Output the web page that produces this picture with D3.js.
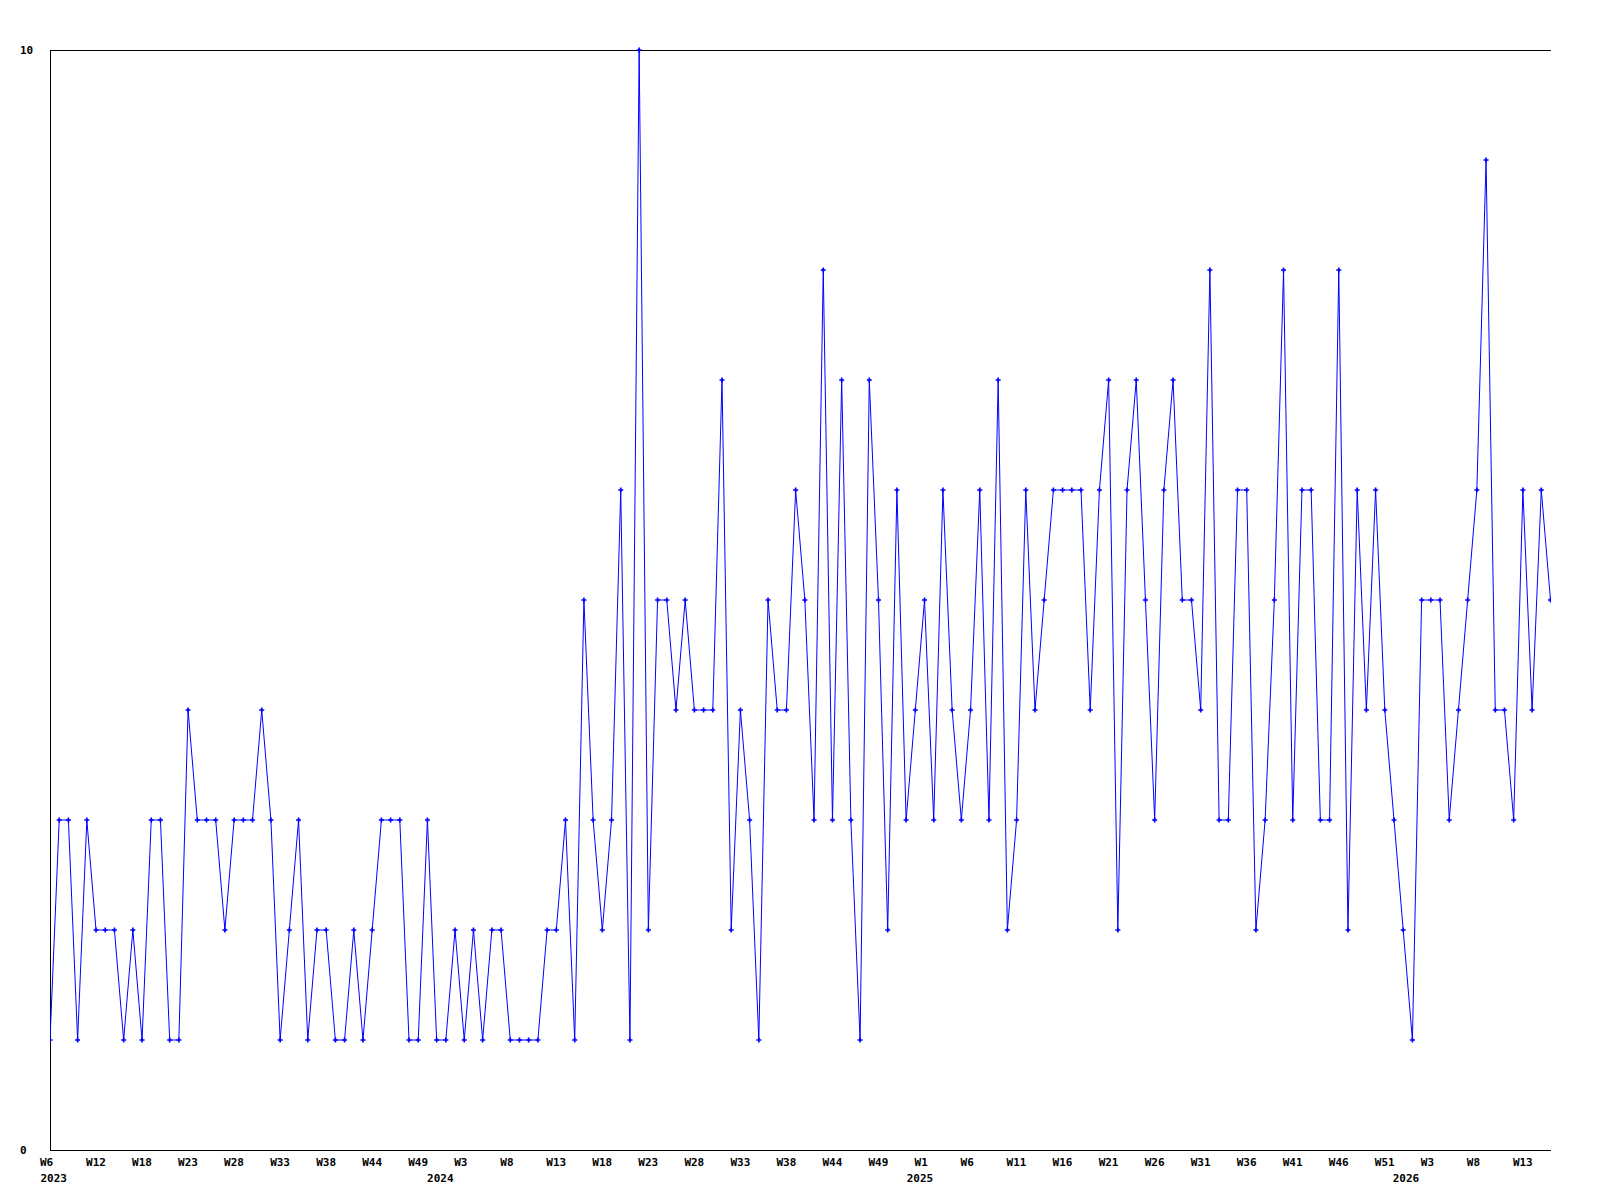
<!DOCTYPE html>
<html>
<head>
<meta charset="utf-8">
<script src="https://cdn.jsdelivr.net/npm/d3@7"></script>
<style>
  html, body { margin: 0; padding: 0; background: #ffffff; }
  svg { display: block; }
  text { font-family: "DejaVu Sans Mono", "Liberation Mono", monospace; font-weight: bold; font-size: 11px; fill: #000; }
</style>
</head>
<body>
<script>
// Weekly values (one point per week)
const values = [
  1,3,3,1,3,2,2,2,1,2, 1,3,3,1,1,4,3,3,3,2, 3,3,3,4,3,1,2,3,1,2,
  2,1,1,2,1,2,3,3,3,1, 1,3,1,1,2,1,2,1,2,2, 1,1,1,1,2,2,3,1,5,3,
  2,3,6,1,
  10,2,5,5,4,5,4,4,4,7, 2,4,3,1,5,4,4,6,5,3, 8,3,7,3,1,7,5,2,6,3,
  4,5,3,
  6,4,3,4,6,3,7,2,3,6, 4,5,6,6,6,6,4,6,7,2, 6,7,5,3,6,7,5,5,4,8,
  3,3,6,6,2,
  3,5,8,3,6,6,3,3,8,2, 6,4,6,4,3,2,1,5,5,5, 3,4,5,6,9,4,4,3,6,4,
  6,5
];

// Week tick labels, one every 5 points
const weekTicks = ["W6","W12","W18","W23","W28","W33","W38","W44","W49","W3","W8","W13",
  "W18","W23","W28","W33","W38","W44","W49","W1","W6","W11","W16","W21","W26","W31",
  "W36","W41","W46","W51","W3","W8","W13"];
const tickStep = 5;

// Year labels and the (fractional) point index they sit under
const years = ["2023","2024","2025","2026"];
const yearAt = [0.4, 42.4, 94.5, 147.3];

// Y axis labels
const yTicks = [0, 10];

(function () {
  const W = 1600, H = 1200;
  const mLeft = 50, mRight = 1550.5, mTop = 50, mBottom = 1150;

  const svg = d3.select("body").append("svg").attr("width", W).attr("height", H);

  const x = d3.scaleLinear().domain([0, values.length - 1]).range([mLeft, mRight]);
  const y = d3.scaleLinear().domain([0, 10]).range([mBottom, mTop]);

  svg.append("defs").append("clipPath").attr("id", "clip")
    .append("rect").attr("x", mLeft).attr("y", mTop - 5).attr("width", 1551 - mLeft).attr("height", mBottom - mTop + 10);

  // frame: left, top, bottom
  const frame = svg.append("g").attr("shape-rendering", "crispEdges").attr("stroke", "#000").attr("stroke-width", 1);
  frame.append("line").attr("x1", mLeft + 0.5).attr("x2", mLeft + 0.5).attr("y1", mTop).attr("y2", mBottom + 0.5);
  frame.append("line").attr("x1", mLeft).attr("x2", 1551).attr("y1", mTop + 0.5).attr("y2", mTop + 0.5);
  frame.append("line").attr("x1", mLeft).attr("x2", 1551).attr("y1", mBottom + 0.5).attr("y2", mBottom + 0.5);

  // y labels
  svg.append("g").selectAll("text").data(yTicks).join("text")
    .attr("x", 20).attr("y", d => y(d) + 4).text(d => d);

  // x week labels
  svg.append("g").selectAll("text").data(weekTicks).join("text")
    .attr("x", (d, i) => x(i * tickStep) - 10).attr("y", 1166).text(d => d);

  // year labels
  svg.append("g").selectAll("text").data(years).join("text")
    .attr("x", (d, i) => x(yearAt[i])).attr("y", 1182).attr("text-anchor", "middle").text(d => d);

  // line
  const g = svg.append("g").attr("clip-path", "url(#clip)");
  g.append("path").datum(values)
    .attr("fill", "none").attr("stroke", "#0000ff").attr("stroke-width", 1)
    .attr("d", d3.line().x((d, i) => x(i)).y(d => y(d)));

  // markers
  g.selectAll("path.m").data(values).join("path").attr("class", "m")
    .attr("transform", (d, i) => `translate(${x(i)},${y(d)})`)
    .attr("d", d3.symbol().type(d3.symbolCross).size(14))
    .attr("fill", "#0000ff");
})();
</script>
</body>
</html>
